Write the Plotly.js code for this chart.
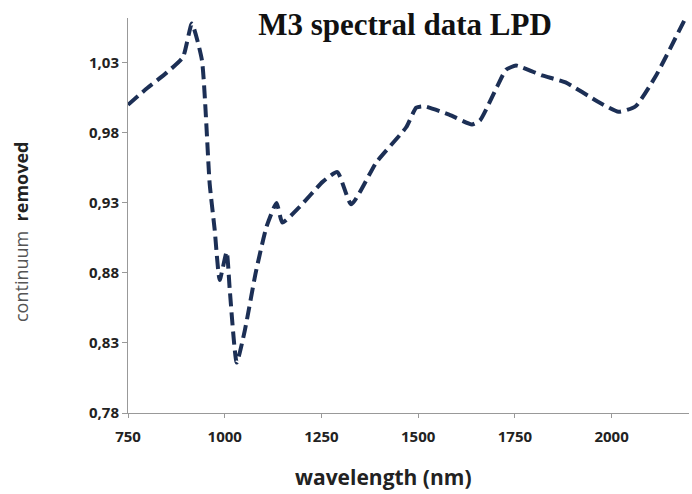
<!DOCTYPE html>
<html>
<head>
<meta charset="utf-8">
<script src="https://cdn.plot.ly/plotly-3.0.1.min.js"></script>
<style>html,body{margin:0;padding:0;background:#fff;}#chart{width:692px;height:494px;}</style>
</head>
<body>
<div id="chart"></div>
<script>
const wavelength = [750, 800, 850, 892, 915, 941, 961, 974, 987, 1005, 1013, 1031, 1052, 1080, 1108, 1134, 1149, 1193, 1253, 1291, 1327, 1392, 1469, 1495, 1515, 1580, 1639, 1660, 1704, 1727, 1753, 1820, 1881, 1966, 2018, 2062, 2113, 2191];
const continuumRemoved = [1.000, 1.012, 1.023, 1.034, 1.058, 1.032, 0.944, 0.911, 0.875, 0.895, 0.868, 0.816, 0.839, 0.880, 0.913, 0.930, 0.916, 0.927, 0.945, 0.952, 0.929, 0.959, 0.984, 0.998, 0.999, 0.993, 0.986, 0.989, 1.013, 1.025, 1.028, 1.021, 1.016, 1.002, 0.995, 0.999, 1.020, 1.062];
const xTicks = [750, 1000, 1250, 1500, 1750, 2000];
const yTicks = [0.78, 0.83, 0.88, 0.93, 0.98, 1.03];

const trace = {
  x: wavelength,
  y: continuumRemoved,
  type: 'scatter',
  mode: 'lines',
  line: {color: '#1c2f55', width: 4, dash: '13px,6px', shape: 'spline', smoothing: 0.5},
  hoverinfo: 'x+y'
};

const tickFont = {family: 'Open Sans, Liberation Sans, sans-serif', size: 15, color: '#222', weight: 'bold'};

const layout = {
  width: 692, height: 494,
  margin: {l: 128, r: 3, t: 18, b: 81},
  paper_bgcolor: '#fff', plot_bgcolor: '#fff',
  separators: ',.',
  showlegend: false,
  title: {
    text: '<b>M3 spectral data LPD</b>',
    font: {family: 'Liberation Serif, Times New Roman, serif', size: 31, color: '#111'},
    x: 405/692, xref: 'container', xanchor: 'center',
    y: 1 - 24/494, yref: 'container', yanchor: 'middle'
  },
  xaxis: {
    range: [750, 2200], tickvals: xTicks, ticks: 'outside', ticklen: 4, tickcolor: '#999',
    showline: true, linecolor: '#999', linewidth: 1, showgrid: false, zeroline: false,
    tickfont: tickFont, ticklabelstandoff: 6
  },
  yaxis: {
    range: [0.78, 1.062], tickvals: yTicks, tickformat: '.2f', ticks: 'outside', ticklen: 5, tickcolor: '#999',
    showline: true, linecolor: '#999', linewidth: 1, showgrid: false, zeroline: false,
    tickfont: tickFont, ticksuffix: '\u2002'
  },
  annotations: [
    {
      text: '<b>wavelength (nm)</b>', xref: 'paper', yref: 'paper',
      x: (383 - 128) / 561, y: -(477 - 413) / 395, xanchor: 'center', yanchor: 'middle', showarrow: false,
      font: {family: 'Open Sans, Liberation Sans, sans-serif', size: 21, color: '#222'}
    },
    {
      text: 'continuum  <b><span style="color:#222">removed</span></b>', xref: 'paper', yref: 'paper', textangle: -90,
      x: (21 - 128) / 561, y: (413 - 232) / 395, xanchor: 'center', yanchor: 'middle', showarrow: false,
      font: {family: 'Open Sans, Liberation Sans, sans-serif', size: 18, color: '#555'}
    }
  ]
};

Plotly.newPlot('chart', [trace], layout, {displayModeBar: false, staticPlot: true});
</script>
</body>
</html>
